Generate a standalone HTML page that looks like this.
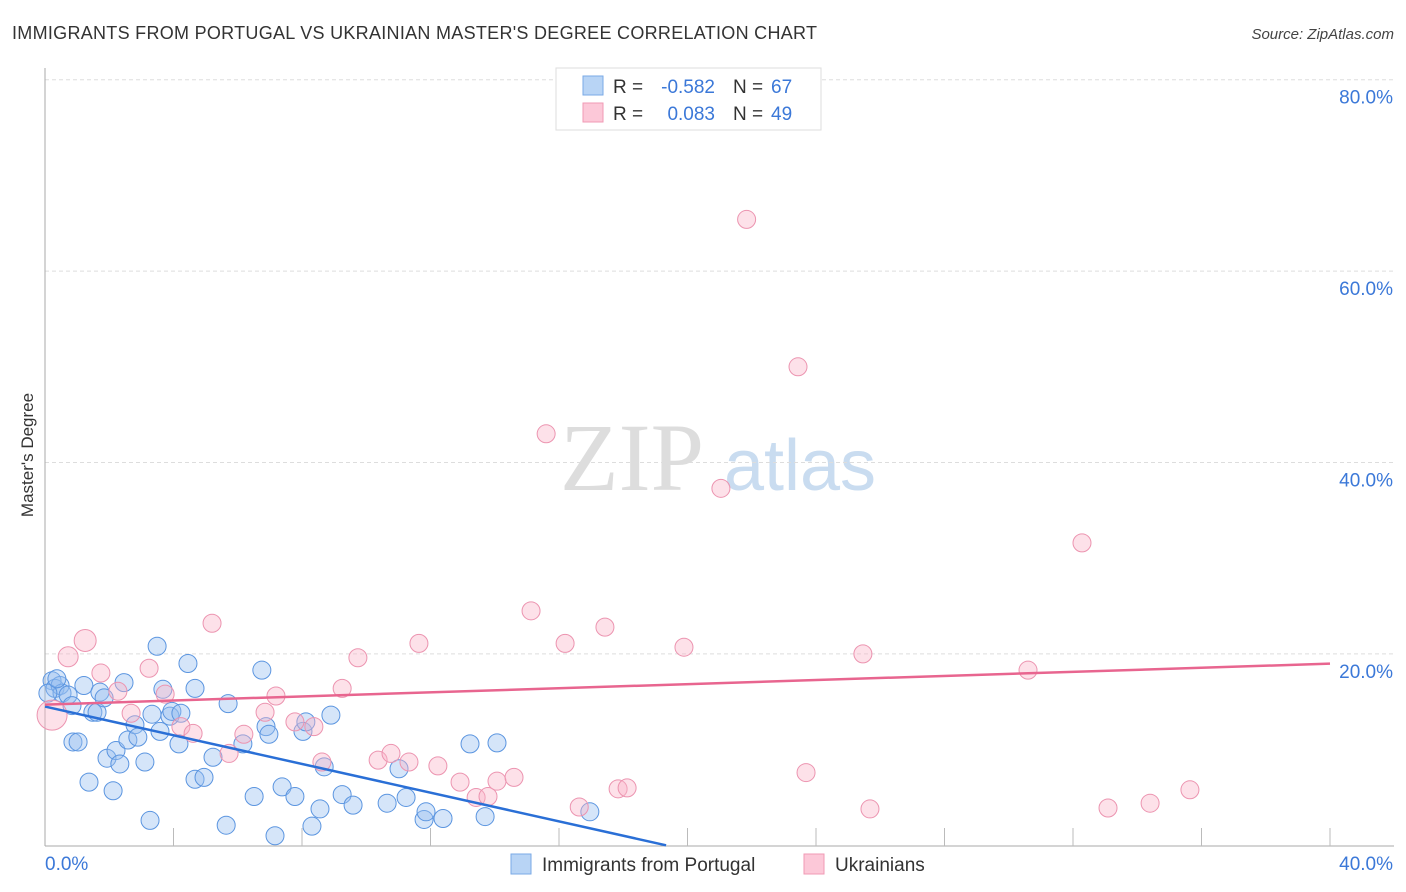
<!DOCTYPE html>
<html><head><meta charset="utf-8"><style>
body{margin:0;background:#fff;width:1406px;height:892px;overflow:hidden;font-family:"Liberation Sans",sans-serif}
svg{display:block}
</style></head><body>
<svg id="chart" width="1406" height="892" xmlns="http://www.w3.org/2000/svg">
<text x="12" y="39" font-size="18" fill="#333" textLength="805">IMMIGRANTS FROM PORTUGAL VS UKRAINIAN MASTER'S DEGREE CORRELATION CHART</text>
<text x="1394" y="39" font-size="15" font-style="italic" fill="#444" text-anchor="end">Source: ZipAtlas.com</text>
<text transform="translate(33,455) rotate(-90)" font-size="17" fill="#333" text-anchor="middle">Master's Degree</text>
<g>
<text x="632" y="490" font-size="96" font-family="Liberation Serif,serif" fill="#ddd" text-anchor="middle">ZIP</text>
<text x="800" y="490" font-size="72" fill="#c9dcf0" text-anchor="middle">atlas</text>
</g>
<g id="grid"></g><g id="marks"></g>
<g>
<rect x="556" y="68" width="265" height="62" fill="#fff" stroke="#ddd"/>
<rect x="583" y="76" width="20" height="19" fill="#b8d4f5" stroke="#7aaae6"/>
<rect x="583" y="103" width="20" height="19" fill="#fcc8d8" stroke="#f09ab4"/>
<text x="613" y="93" font-size="19" fill="#333">R =</text>
<text x="715" y="93" font-size="19" fill="#3b78d8" text-anchor="end">-0.582</text>
<text x="733" y="93" font-size="19" fill="#333">N =</text>
<text x="771" y="93" font-size="19" fill="#3b78d8">67</text>
<text x="613" y="120" font-size="19" fill="#333">R =</text>
<text x="715" y="120" font-size="19" fill="#3b78d8" text-anchor="end">0.083</text>
<text x="733" y="120" font-size="19" fill="#333">N =</text>
<text x="771" y="120" font-size="19" fill="#3b78d8">49</text>
</g>
<g>
<rect x="511" y="854" width="20" height="20" fill="#b8d4f5" stroke="#7aaae6"/>
<text x="542" y="871" font-size="19" fill="#333">Immigrants from Portugal</text>
<rect x="804" y="854" width="20" height="20" fill="#fcc8d8" stroke="#f09ab4"/>
<text x="835" y="871" font-size="19" fill="#333">Ukrainians</text>
</g>
</svg>
<script>
const yTicks=[20,40,60,80];
const xTickLabels=["0.0%","40.0%"];
const blueX=[0.22,0.31,0.47,0.53,0.72,0.87,1.03,0.84,1.21,1.37,1.49,1.62,1.71,1.84,1.93,2.12,2.21,2.33,2.46,2.58,2.80,2.89,3.11,3.27,3.33,3.49,3.58,3.67,3.89,3.95,4.17,4.23,4.45,4.67,4.67,4.95,5.23,5.64,5.70,6.16,6.51,6.75,6.88,6.97,7.16,7.38,7.78,8.03,8.12,8.31,8.56,8.69,8.90,9.25,9.59,10.65,11.02,11.24,11.80,11.86,12.39,13.23,13.70,14.07,16.96,0.09,0.37];
const blueY=[17.2,16.4,16.7,15.9,15.7,10.8,10.8,14.6,16.7,6.6,13.9,13.9,16.0,15.4,9.1,5.7,9.9,8.5,17.0,11.0,12.6,11.3,8.7,2.6,13.7,20.8,11.9,16.3,13.5,14.0,10.6,13.8,19.0,16.4,6.9,7.1,9.2,2.1,14.8,10.6,5.1,18.3,12.4,11.6,1.0,6.1,5.1,11.9,12.9,2.0,3.8,8.2,13.6,5.3,4.2,4.4,8.0,5.0,2.7,3.5,2.8,10.6,3.0,10.7,3.5,15.9,17.4];
const pinkX=[0.22,1.25,0.72,1.74,2.27,2.68,3.24,3.74,4.23,4.61,5.20,5.73,6.19,6.85,7.19,7.78,8.37,8.62,9.25,9.74,10.37,10.77,11.33,11.64,12.23,12.92,13.42,13.79,14.07,14.60,15.13,15.60,16.19,16.63,17.43,17.84,18.12,19.89,21.04,21.84,23.44,23.69,25.46,25.68,30.60,32.28,33.09,34.40,35.64];
const pinkY=[13.6,21.4,19.7,18.0,16.1,13.8,18.5,15.8,12.4,11.7,23.2,9.6,11.6,13.9,15.6,12.9,12.4,8.7,16.4,19.6,8.9,9.6,8.7,21.1,8.3,6.6,5.0,5.1,6.7,7.1,24.5,43.0,21.1,4.0,22.8,5.9,6.0,20.7,37.3,65.4,50.0,7.6,20.0,3.8,18.3,31.6,3.9,4.4,5.8];
const pinkR=[15,11,10,9,9,9,9,9,9,9,9,9,9,9,9,9,9,9,9,9,9,9,9,9,9,9,9,9,9,9,9,9,9,9,9,9,9,9,9,9,9,9,9,9,9,9,9,9,9];
const blueTrend=[14.5,-0.75];
const pinkTrend=[14.7,0.107];
const X=v=>45+v*32.125, Y=v=>845.3-v*9.57;
const NS="http://www.w3.org/2000/svg";
function mk(t,a,p){const e=document.createElementNS(NS,t);for(const k in a)e.setAttribute(k,a[k]);p.appendChild(e);return e;}
const grid=document.getElementById('grid'),marks=document.getElementById('marks');
yTicks.forEach(t=>{
const l=mk('line',{x1:45,x2:1394,y1:Y(t),y2:Y(t),stroke:'#ddd','stroke-dasharray':'4,3'},grid);


const tx=mk('text',{x:1393,y:Y(t)+24,'font-size':19,fill:'#3b78d8','text-anchor':'end'},grid);
tx.textContent=t.toFixed(1)+'%';


});
const ax=mk('line',{x1:45,x2:45,y1:68,y2:846,stroke:'#aaa'},grid);


const bx=mk('line',{x1:45,x2:1394,y1:846,y2:846,stroke:'#aaa'},grid);


for(let i=1;i<=10;i++){const tk=mk('line',{x1:X(i*4),x2:X(i*4),y1:828,y2:846,stroke:'#bbb'},grid);

}
[[0,'start',45],[40,'end',1393]].forEach((d,i)=>{const t=mk('text',{x:d[2],y:870,'font-size':19,fill:'#3b78d8','text-anchor':d[1]},grid);t.textContent=xTickLabels[i];

});
blueX.forEach((x,i)=>{const c=mk('circle',{cx:X(x),cy:Y(blueY[i]),r:9,fill:'rgba(150,190,240,0.4)',stroke:'#5b95e0','stroke-width':1},marks);

});
pinkX.forEach((x,i)=>{const c=mk('circle',{cx:X(x),cy:Y(pinkY[i]),r:pinkR[i],fill:'rgba(250,180,200,0.4)',stroke:'#ec94b0','stroke-width':1},marks);

});
const bEnd=-blueTrend[0]/blueTrend[1];
const bl=mk('line',{x1:X(0),y1:Y(blueTrend[0]),x2:X(bEnd),y2:Y(0),stroke:'#2a6fd6','stroke-width':2.5},marks);


const pl=mk('line',{x1:X(0),y1:Y(pinkTrend[0]),x2:X(40),y2:Y(pinkTrend[0]+pinkTrend[1]*40),stroke:'#e8658f','stroke-width':2.5},marks);


</script>
</body></html>
